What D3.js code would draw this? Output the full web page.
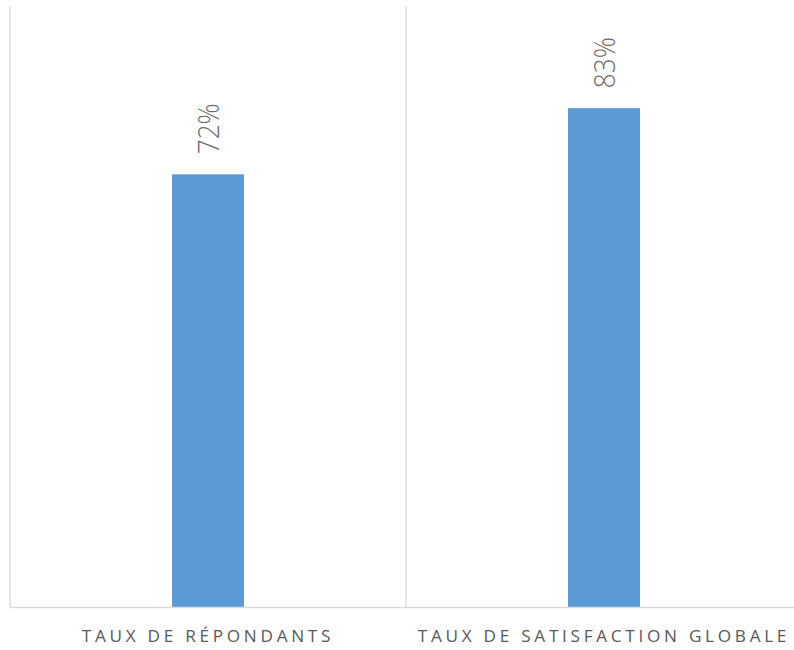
<!DOCTYPE html>
<html><head><meta charset="utf-8">
<script src="https://cdn.jsdelivr.net/npm/d3@7/dist/d3.min.js"></script>
<style>body{margin:0;background:#fff}</style>
</head><body>
<svg id="c" width="794" height="650"></svg>
<script>
const categories = ["TAUX DE RÉPONDANTS", "TAUX DE SATISFACTION GLOBALE"];
const values = [72, 83];
const valueLabels = ["72%", "83%"];

(function () {
const svg = d3.select("#c");
const mLeft = 10, mRight = 802, mTop = 6, mBottom = 607;
const x = d3.scaleBand().domain(categories).range([mLeft, mRight]).paddingInner(0).paddingOuter(0);
const y = d3.scaleLinear().domain([0, 100]).range([mBottom, mTop]);
const barW = 72;

const seps = [mLeft, ...categories.map(c => x(c) + x.bandwidth())];
svg.selectAll("line.sep").data(seps).join("line").attr("class", "sep")
  .attr("x1", d => d).attr("x2", d => d).attr("y1", 6).attr("y2", mBottom)
  .attr("stroke", "#d9d9d9").attr("stroke-width", 1.3);

svg.selectAll("rect.bar").data(values).join("rect").attr("class", "bar")
  .attr("x", (d, i) => x(categories[i]) + x.bandwidth() / 2 - barW / 2)
  .attr("width", barW)
  .attr("y", d => y(d))
  .attr("height", d => y(0) - y(d))
  .attr("fill", "#5b9bd5");

svg.append("line").attr("x1", mLeft).attr("x2", mRight).attr("y1", mBottom + 0.5).attr("y2", mBottom + 0.5)
  .attr("stroke", "#d9d9d9").attr("stroke-width", 1.3);

svg.selectAll("text.val").data(values).join("text").attr("class", "val")
  .attr("transform", (d, i) => `translate(${x(categories[i]) + x.bandwidth() / 2 + 11},${y(d) - 20}) rotate(-90)`)
  .attr("font-family", "Open Sans").attr("font-weight", 300).attr("font-size", 29)
  .attr("textLength", 51).attr("lengthAdjust", "spacingAndGlyphs")
  .attr("fill", "#6b6b6b").attr("text-anchor", "start")
  .text((d, i) => valueLabels[i]);

svg.selectAll("text.cat").data(categories).join("text").attr("class", "cat")
  .attr("x", d => x(d) + x.bandwidth() / 2)
  .attr("y", 642)
  .attr("font-family", "Open Sans").attr("font-size", 17.2)
  .attr("letter-spacing", 3.7)
  .attr("fill", "#595959").attr("text-anchor", "middle")
  .text(d => d);
})();
</script>
</body></html>
